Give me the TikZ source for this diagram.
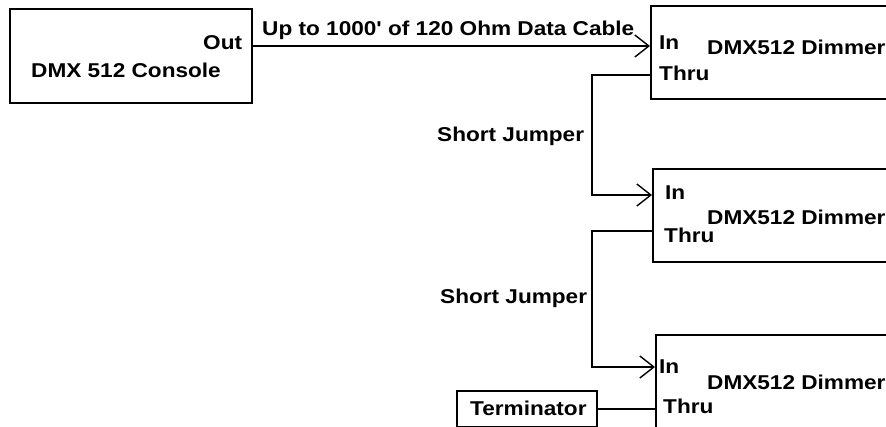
\documentclass[tikz,border=0pt]{standalone}
\usepackage{fontspec}
\newfontfamily\diagfont[FakeStretch=1.13]{Liberation Sans}
\usetikzlibrary{arrows.meta}
\tikzset{
    box/.style={draw, rectangle, line width=1.6pt, anchor=north west, inner sep=0pt},
    lbl/.style={anchor=west, inner sep=0pt, font=\diagfont\fontsize{20}{23}\selectfont\bfseries},
    wire/.style={line width=1.6pt},
    arrow/.style={wire, -{Straight Barb[length=14pt, width=22pt, line width=1.4pt]}}
}

\begin{document}
\begin{tikzpicture}[x=1pt, y=-1pt]
\useasboundingbox (0,0) rectangle (886,427);
\clip (0,0) rectangle (886,427);
\fill[white] (0,0) rectangle (886,427);
\node[box, minimum width=242pt, minimum height=94pt] (console) at (9,8) {};
\node[box, minimum width=260pt, minimum height=93pt] (dim1) at (650,5) {};
\node[box, minimum width=260pt, minimum height=93pt] (dim2) at (652,168) {};
\node[box, minimum width=260pt, minimum height=110pt] (dim3) at (655,334) {};
\node[box, minimum width=140pt, minimum height=36pt] (term) at (456,390) {};
\node[lbl] (out) at (203,43) {Out};
\node[lbl] (consolename) at (31,70) {DMX 512 Console};
\node[lbl] (cable) at (262,30) {Up to 1000{\char39} of 120 Ohm Data Cable};
\node[lbl] (in1) at (659,43) {In};
\node[lbl] (thru1) at (659,73) {Thru};
\node[lbl] (name1) at (707,47) {DMX512 Dimmer};
\node[lbl] (in2) at (665,193) {In};
\node[lbl] (thru2) at (664,235) {Thru};
\node[lbl] (name2) at (707,217) {DMX512 Dimmer};
\node[lbl] (in3) at (659,367) {In};
\node[lbl] (thru3) at (663,406) {Thru};
\node[lbl] (name3) at (707,382) {DMX512 Dimmer};
\node[lbl] (termname) at (470,408) {Terminator};
\node[lbl] (jumper1) at (437,136) {Short Jumper};
\node[lbl] (jumper2) at (440,298) {Short Jumper};
\coordinate (bend1) at (592,75);
\coordinate (bend2) at (592,231);
\draw[arrow] (console.east |- 0,46) -- (dim1.west |- 0,46);
\draw[arrow] (dim1.west |- bend1) -- (bend1) |- (dim2.west |- 0,195);
\draw[arrow] (dim2.west |- bend2) -- (bend2) |- (dim3.west |- 0,367);
\draw[wire] (term.east) -- (dim3.west |- term.east);
\end{tikzpicture}
\end{document}
